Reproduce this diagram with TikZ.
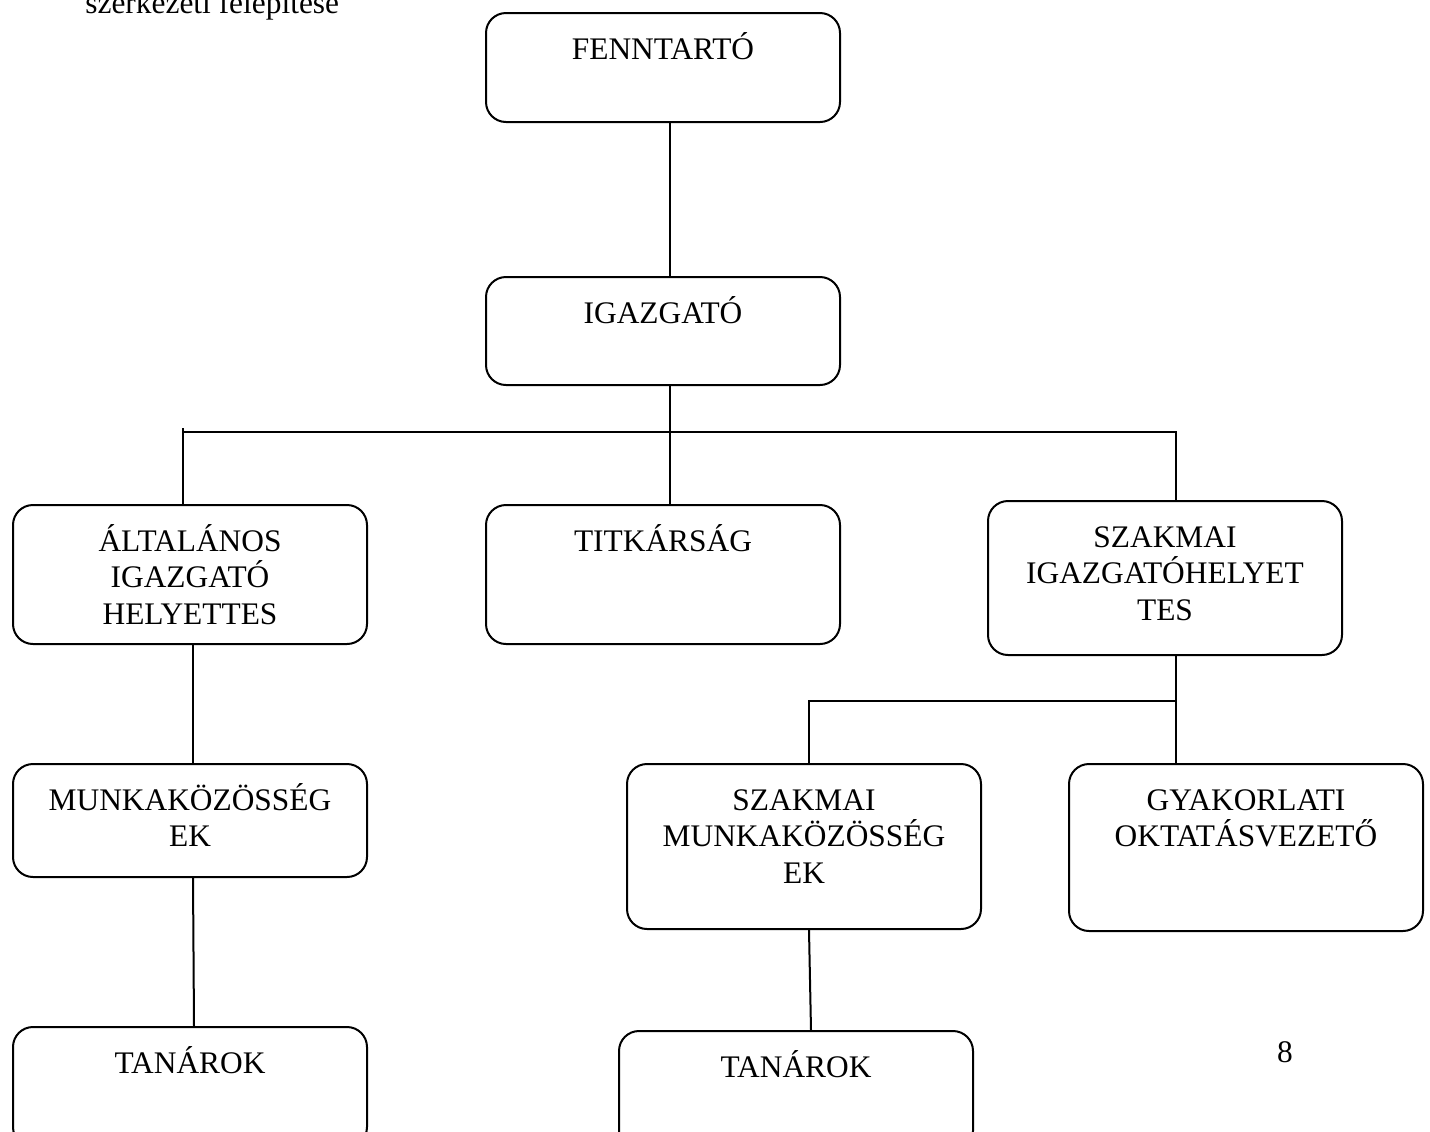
\documentclass[tikz,border=0pt]{standalone}
\usepackage{fontspec}
\setmainfont{Liberation Serif}
\usetikzlibrary{positioning}
\newcommand{\boxtext}[2]{\parbox[c][#1][t]{177pt}{\centering\fontsize{15.7}{18.4}\selectfont\rule{0pt}{23pt}#2}}
\tikzset{
	orgbox/.style={
			draw=black,
			line width=1pt,
			rounded corners=10pt,
			inner sep=0pt,
			anchor=north west
		},
	orgline/.style={
			draw=black,
			line width=1pt
		},
	plaintext/.style={
			inner sep=0pt,
			font=\fontsize{15.7}{18.4}\selectfont
		}
}
\begin{document}
\begin{tikzpicture}[x=0.5pt, y=-0.5pt]
\useasboundingbox (0,0) rectangle (1430,1131);
\clip (0,0) rectangle (1430,1131);

\node[plaintext, anchor=base west] (caption) at (85,13) {szerkezeti felépítése};
\node[plaintext, anchor=base] (pagenum) at (1285,1062) {8};

\node[orgbox] (fenn) at (485,12) {\boxtext{54.5pt}{FENNTARTÓ}};
\node[orgbox] (igaz) at (485,276) {\boxtext{54pt}{IGAZGATÓ}};
\node[orgbox] (alt) at (12,504) {\boxtext{69.5pt}{ÁLTALÁNOS\\IGAZGATÓ\\HELYETTES}};
\node[orgbox] (titk) at (485,504) {\boxtext{69.5pt}{TITKÁRSÁG}};
\node[orgbox] (szak) at (987,500) {\boxtext{77pt}{SZAKMAI\\IGAZGATÓHELYET\\TES}};
\node[orgbox] (munka) at (12,763) {\boxtext{56.5pt}{MUNKAKÖZÖSSÉG\\EK}};
\node[orgbox] (szmunka) at (626,763) {\boxtext{82.5pt}{SZAKMAI\\MUNKAKÖZÖSSÉG\\EK}};
\node[orgbox] (gyak) at (1068,763) {\boxtext{83.5pt}{GYAKORLATI\\OKTATÁSVEZETŐ}};
\node[orgbox] (tan1) at (12,1026) {\boxtext{60pt}{TANÁROK}};
\node[orgbox] (tan2) at (618,1030) {\boxtext{60pt}{TANÁROK}};

\draw[orgline] ([xshift=3.5pt]fenn.south) -- ([xshift=3.5pt]igaz.north);
\draw[orgline] ([xshift=3.5pt]igaz.south) -- ([xshift=3.5pt]titk.north);
\draw[orgline] ([xshift=-3.5pt]alt.north) -- ([xshift=-3.5pt, yshift=38pt]alt.north);
\draw[orgline] ([xshift=-3.5pt, yshift=36pt]alt.north) -| ([xshift=5.5pt]szak.north);

\draw[orgline] ([xshift=5.5pt]szak.south) -- ([xshift=-35pt]gyak.north);
\draw[orgline] ([xshift=2.5pt]szmunka.north) |- ([xshift=-35pt, yshift=31pt]gyak.north);

\draw[orgline] ([xshift=1.5pt]alt.south) -- ([xshift=1.5pt]munka.north);
\draw[orgline] ([xshift=1.5pt]munka.south) -- ([xshift=2pt]tan1.north);
\draw[orgline] ([xshift=2.5pt]szmunka.south) -- ([xshift=7.5pt]tan2.north);

\end{tikzpicture}
\end{document}
